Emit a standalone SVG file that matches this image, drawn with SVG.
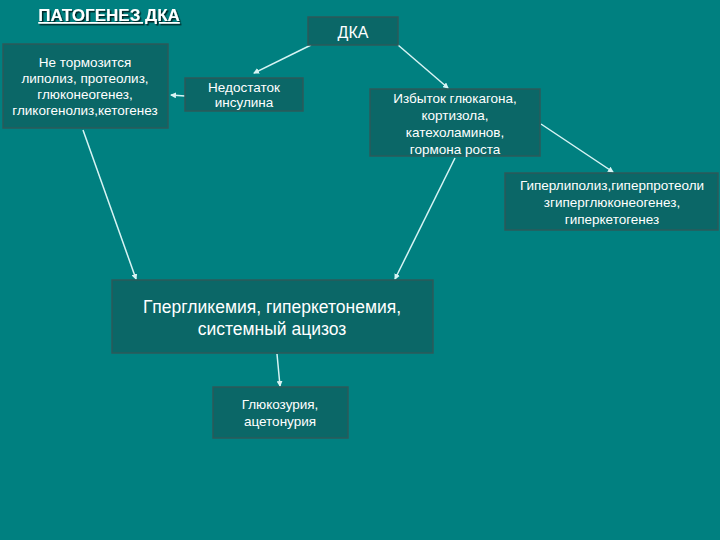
<svg xmlns="http://www.w3.org/2000/svg" width="720" height="540" viewBox="0 0 720 540">
<defs>
<marker id="a" markerWidth="6" markerHeight="6" refX="5" refY="3" orient="auto" markerUnits="userSpaceOnUse"><path d="M0,0L6,3L0,6z" fill="#d8f4f4"/></marker>
<filter id="sh"><feDropShadow dx="1.5" dy="1.5" stdDeviation="0.5" flood-color="#000" flood-opacity="0.7"/></filter>
</defs>
<style>
.b{fill:#0b6767;stroke:#2d5a5a;stroke-width:1.5}
text{font-family:"Liberation Sans",Arial,sans-serif;fill:#fff;text-anchor:middle;font-size:13.5px}
.c line{stroke:#d8f4f4;stroke-width:1.5;marker-end:url(#a)}
</style>
<rect width="720" height="540" fill="#008080"/>
<text x="109" y="21" style="font-size:17px;font-weight:bold;text-decoration:underline" filter="url(#sh)">ПАТОГЕНЕЗ ДКА</text>
<g class="c">
<line x1="311" y1="45" x2="254" y2="73"/>
<line x1="398" y1="45" x2="448" y2="88"/>
<line x1="185" y1="96" x2="171" y2="95"/>
<line x1="83" y1="130" x2="136" y2="279"/>
<line x1="455" y1="158" x2="395" y2="279"/>
<line x1="541" y1="124" x2="613" y2="172"/>
<line x1="277" y1="354" x2="280" y2="386"/>
</g>
<g id="dka"><rect class="b" x="308" y="17" width="90" height="28"/><text x="353" y="38" style="font-size:16px">ДКА</text></g>
<g id="left"><rect class="b" x="3" y="44" width="165" height="84"/><text x="85" y="67">Не тормозится</text><text x="85" y="83">липолиз, протеолиз,</text><text x="85" y="99">глюконеогенез,</text><text x="85" y="115">гликогенолиз,кетогенез</text></g>
<g id="ins"><rect class="b" x="185" y="78" width="118" height="33"/><text x="244" y="92">Недостаток</text><text x="244" y="107">инсулина</text></g>
<g id="izb"><rect class="b" x="370" y="89" width="170" height="67"/><text x="455" y="103">Избыток глюкагона,</text><text x="455" y="120">кортизола,</text><text x="455" y="137">катехоламинов,</text><text x="455" y="154">гормона роста</text></g>
<g id="giper"><rect class="b" x="505" y="173" width="213" height="57"/><text x="612" y="190">Гиперлиполиз,гиперпротеоли</text><text x="612" y="207">згиперглюконеогенез,</text><text x="612" y="224">гиперкетогенез</text></g>
<g id="main"><rect class="b" x="112" y="280" width="321" height="73"/><text x="272" y="313" style="font-size:17.5px">Гпергликемия, гиперкетонемия,</text><text x="272" y="335" style="font-size:17.5px">системный ацизоз</text></g>
<g id="glu"><rect class="b" x="213" y="387" width="135" height="51"/><text x="280" y="409">Глюкозурия,</text><text x="280" y="426">ацетонурия</text></g>
</svg>
